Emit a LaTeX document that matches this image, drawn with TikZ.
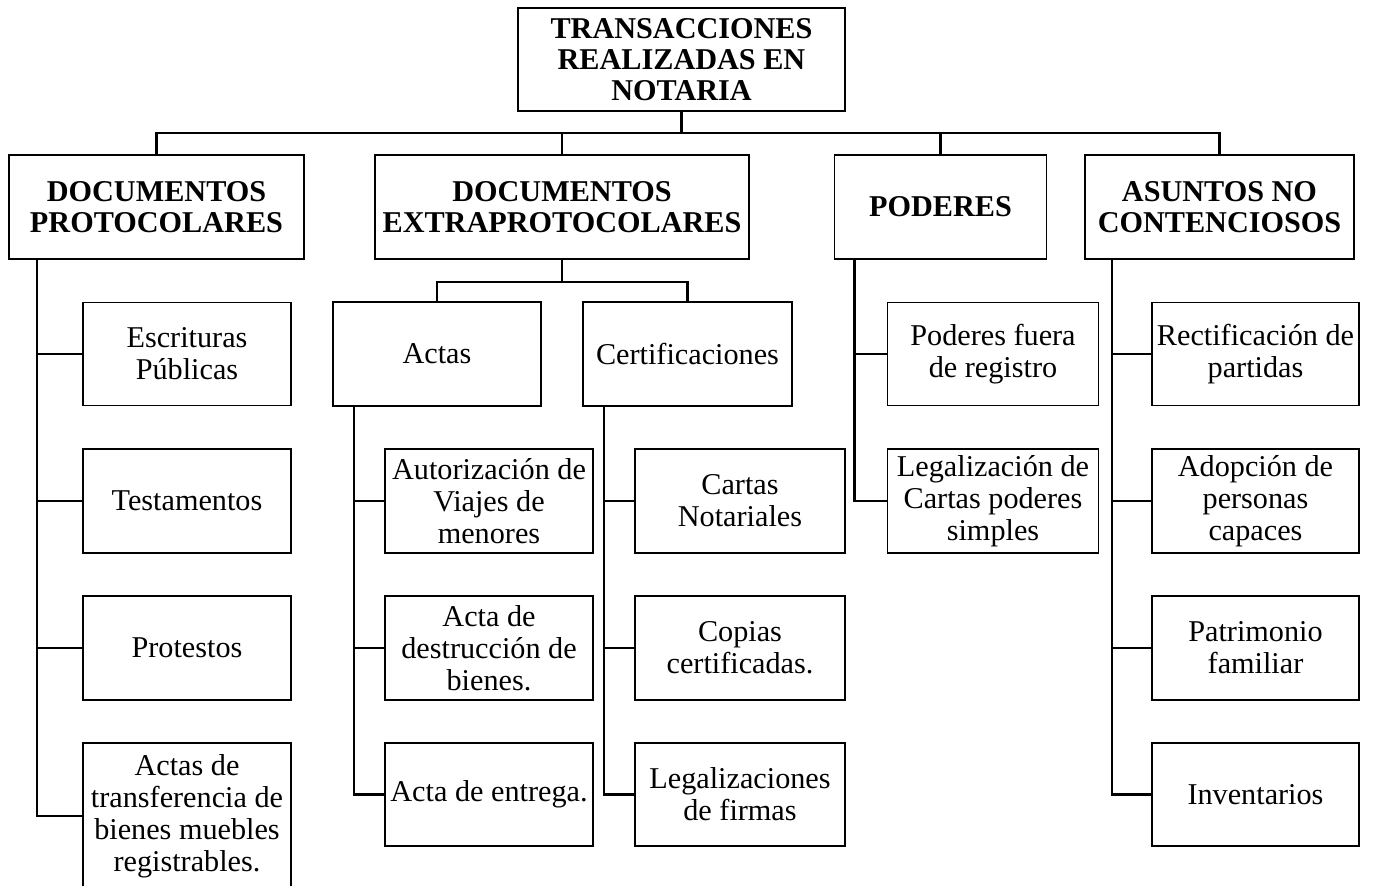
\documentclass[tikz,border=0pt]{standalone}
\usepackage{fontspec}
\setmainfont{Liberation Serif}
\usepackage{tikz}
\newcommand{\pxUnit}{0.02cm}

\begin{document}
\begin{tikzpicture}[x=\pxUnit,y=-\pxUnit,
    box/.style 2 args={draw,line width=1.1pt,inner sep=0pt,align=center,
        minimum width=#1*\pxUnit,minimum height=#2*\pxUnit,
        font=\fontsize{17.2}{18.2}\selectfont},
    head/.style 2 args={box={#1}{#2},font=\fontsize{17.2}{17.6}\selectfont\bfseries},
    wire/.style={line width=1.5pt}]
\useasboundingbox (0,0) rectangle (1373,886);

\node[head={327}{103}] (root) at (681.5,59.5) {TRANSACCIONES\\REALIZADAS EN\\NOTARIA};
\node[head={295}{104}] (prot) at (156.5,207) {DOCUMENTOS\\PROTOCOLARES};
\node[head={374}{104}] (extra) at (562,207) {DOCUMENTOS\\EXTRAPROTOCOLARES};
\node[head={212}{104}] (pod) at (940.5,207) {PODERES};
\node[head={269}{104}] (asun) at (1219.5,207) {ASUNTOS NO\\CONTENCIOSOS};

\node[box={208}{104}] (actas) at (437,354) {Actas};
\node[box={209}{104}] (cert) at (687.5,354) {Certificaciones};

\node[box={208}{103}] (p1) at (187,354) {Escrituras\\Públicas};
\node[box={208}{104}] (p2) at (187,501) {Testamentos};
\node[box={208}{104}] (p3) at (187,648) {Protestos};
\node[box={208}{146}] (p4) at (187,816) {Actas de\\transferencia de\\bienes muebles\\registrables.};

\node[box={208}{104}] (a1) at (489,501) {Autorización de\\Viajes de\\menores};
\node[box={208}{104}] (a2) at (489,648) {Acta de\\destrucción de\\bienes.};
\node[box={208}{103}] (a3) at (489,794.5) {Acta de entrega.};

\node[box={210}{104}] (c1) at (740,501) {Cartas\\Notariales};
\node[box={210}{104}] (c2) at (740,648) {Copias\\certificadas.};
\node[box={210}{103}] (c3) at (740,794.5) {Legalizaciones\\de firmas};

\node[box={211}{103}] (d1) at (993,354) {Poderes fuera\\de registro};
\node[box={211}{104}] (d2) at (993,501) {Legalización de\\Cartas poderes\\simples};

\node[box={207}{103}] (n1) at (1255.5,354) {Rectificación de\\partidas};
\node[box={207}{104}] (n2) at (1255.5,501) {Adopción de\\personas\\capaces};
\node[box={207}{104}] (n3) at (1255.5,648) {Patrimonio\\familiar};
\node[box={207}{103}] (n4) at (1255.5,794.5) {Inventarios};

\coordinate (bus) at (681.5,133);
\draw[wire] (root.south) -- (bus);
\draw[wire] (prot.north) |- (bus) -| (asun.north);
\draw[wire] (extra.north) -- (extra.north |- bus);
\draw[wire] (pod.north) -- (pod.north |- bus);
\coordinate (sub) at (562,282);
\draw[wire] (extra.south) -- (sub);
\draw[wire] (actas.north) |- (sub) -| (cert.north);

\path (prot.south west) ++(29,0) coordinate (tp);
\path (actas.south west) ++(22,0) coordinate (ta);
\path (cert.south west) ++(22,0) coordinate (tc);
\path (pod.south west) ++(21,0) coordinate (td);
\path (asun.south west) ++(28,0) coordinate (tn);
\foreach \c in {p1,p2,p3,p4} \draw[wire] (tp) |- (\c.west);
\foreach \c in {a1,a2,a3} \draw[wire] (ta) |- (\c.west);
\foreach \c in {c1,c2,c3} \draw[wire] (tc) |- (\c.west);
\foreach \c in {d1,d2} \draw[wire] (td) |- (\c.west);
\foreach \c in {n1,n2,n3,n4} \draw[wire] (tn) |- (\c.west);
\end{tikzpicture}
\end{document}
